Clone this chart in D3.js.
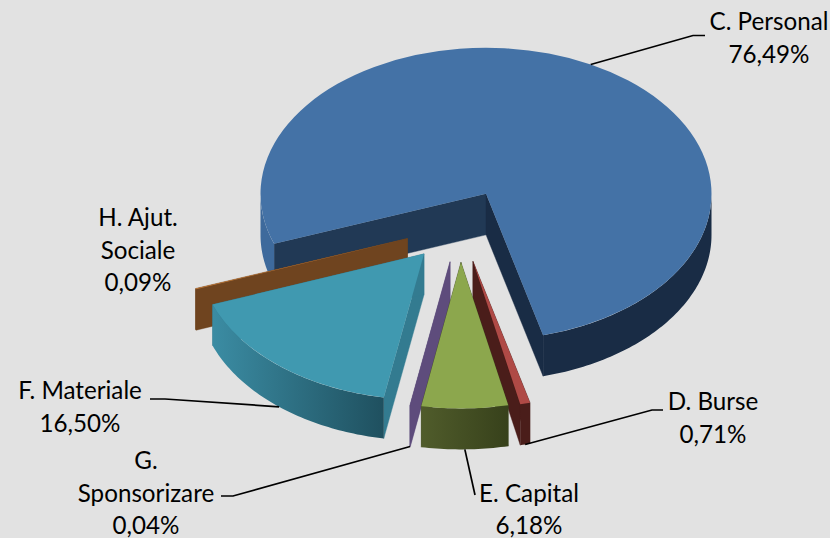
<!DOCTYPE html>
<html>
<head>
<meta charset="utf-8">
<script src="https://cdn.jsdelivr.net/npm/d3@7"></script>
<style>
html,body{margin:0;padding:0;background:#e2e2e2;}
svg{display:block;}
text{font-family:Lato,"Noto Sans",sans-serif;font-size:24.2px;fill:#000;text-anchor:middle;}
</style>
</head>
<body>
<div id="chart"></div>
<script>
// ---- data (clockwise order round the pie) ----
const categories = ["C. Personal","D. Burse","E. Capital","G. Sponsorizare","F. Materiale","H. Ajut. Sociale"];
const values = [76.49,0.71,6.18,0.04,16.50,0.09];
const valueLabels = ["76,49%","0,71%","6,18%","0,04%","16,50%","0,09%"];

// ---- styles ----
const topColors   = ["#4472a6","#af4a46","#8ca74d","#5e4c7c","#4099b0","#c27a38"];
const startWall   = ["#213955","#4a1d1a","#3a431d","#5e4c7c","#337b90","#6f441f"];
const endWall     = ["#192c45","#4a1d1a","#3a431d","#5e4c7c","#337b90","#6f441f"];
const outerLeft   = ["#3e6a9c","#4a1d1a","#505c2b","#5e4c7c","#3b8ca3","#6f441f"];
const outerRight  = ["#192c45","#4a1d1a","#37411b","#5e4c7c","#1f505f","#6f441f"];
const paintOrder  = [0,5,4,3,1,2];

// ---- layout ----
const W=830,H=538,cx=460,cy=226,rx=225.5,k=0.648,explode=56,depth=41,firstAngle=250,lineGap=32.5;
const rad=d=>d*Math.PI/180;
const labelLayout = [
 {lines:["C. Personal","76,49%"],x:769,y:30,elbow:[[693,35.5],[705,35.5]]},
 {lines:["D. Burse","0,71%"],x:713,y:410,elbow:[[652,410],[663,410]]},
 {lines:["E. Capital","6,18%"],x:529,y:501.5,elbow:[[475,495]]},
 {lines:["G.","Sponsorizare","0,04%"],x:146,y:469,elbow:[[233,496],[221,496]]},
 {lines:["F. Materiale","16,50%"],x:80,y:399,elbow:[[165,399],[150,399]]},
 {lines:["H. Ajut.","Sociale","0,09%"],x:138,y:226,elbow:null}
];

const svg=d3.select("#chart").append("svg").attr("width",W).attr("height",H);
svg.append("rect").attr("width",W).attr("height",H).attr("fill","#e2e2e2");
const defs=svg.append("defs");

const pie=d3.pie().sort(null).value(d=>d)
  .startAngle(rad(firstAngle)).endAngle(rad(firstAngle+360));
const slices=pie(values);
const arcGen=d3.arc().innerRadius(0).outerRadius(rx);

function apex(s){
  const m=(s.startAngle+s.endAngle)/2;
  return [cx+explode*Math.sin(m), cy-explode*k*Math.cos(m)];
}
function rim(s,a,r=rx){
  const c=apex(s);
  return [c[0]+r*Math.sin(a), c[1]-r*k*Math.cos(a)];
}
const poly=d3.line();
const area=d3.area().x(d=>d[0]).y0(d=>d[1]).y1(d=>d[1]+depth);

// visible part of outer wall: angle ranges facing the viewer (90..270 deg, mod 360)
function visibleRanges(s){
  const out=[];
  for(const base of [90,450]){
    const a=Math.max(s.startAngle,rad(base)), b=Math.min(s.endAngle,rad(base+180));
    if(b>a) out.push([a,b]);
  }
  return out;
}

const layer=svg.append("g");
paintOrder.forEach(i=>{
  const s=slices[i], c=apex(s), g=layer.append("g");
  // radial walls
  [[s.startAngle,startWall[i]],[s.endAngle,endWall[i]]].forEach(([a,col])=>{
    const p=rim(s,a);
    g.append("path")
     .attr("d",poly([c,p,[p[0],p[1]+depth],[c[0],c[1]+depth]])+"Z")
     .attr("fill",col).attr("stroke",col).attr("stroke-width",0.4);
  });
  // outer curved wall
  visibleRanges(s).forEach(([a,b],j)=>{
    const n=Math.max(4,Math.ceil((b-a)/rad(1)));
    const pts=d3.range(n+1).map(t=>rim(s,a+(b-a)*t/n));
    const id="wall"+i+"_"+j;
    const ext=d3.extent(pts,d=>d[0]);
    const grad=defs.append("linearGradient").attr("id",id)
      .attr("gradientUnits","userSpaceOnUse")
      .attr("x1",ext[0]).attr("x2",ext[1]).attr("y1",0).attr("y2",0);
    const solid=(i===0);
    const onLeft=pts[0][0]<apex(s)[0]&&pts[n][0]<apex(s)[0];
    const c1=solid?(onLeft?outerLeft[i]:outerRight[i]):outerLeft[i];
    const c2=solid?(onLeft?outerLeft[i]:outerRight[i]):outerRight[i];
    grad.append("stop").attr("offset",0).attr("stop-color",c1);
    grad.append("stop").attr("offset",1).attr("stop-color",c2);
    g.append("path").attr("d",area(pts)).attr("fill","url(#"+id+")");
  });
  // top face: a d3 arc flattened to the ellipse
  g.append("path").attr("d",arcGen(s))
   .attr("transform",`translate(${c[0]},${c[1]}) scale(1,${k})`)
   .attr("fill",topColors[i]);
});

// leader lines and labels
labelLayout.forEach((l,i)=>{
  const s=slices[i];
  const m=(s.startAngle+s.endAngle)/2;
  if(l.elbow){
    const p=rim(s,m);
    const cosv=Math.cos(m);
    const anchor= cosv<0 ? [p[0],p[1]+depth] : p;
    svg.append("path").attr("d",poly([anchor,...l.elbow]))
      .attr("fill","none").attr("stroke","#000").attr("stroke-width",1.7);
  }
  const t=svg.append("text");
  l.lines.forEach((line,j)=>{
    t.append("tspan").attr("x",l.x).attr("y",l.y+j*lineGap).text(line);
  });
});
</script>
</body>
</html>
